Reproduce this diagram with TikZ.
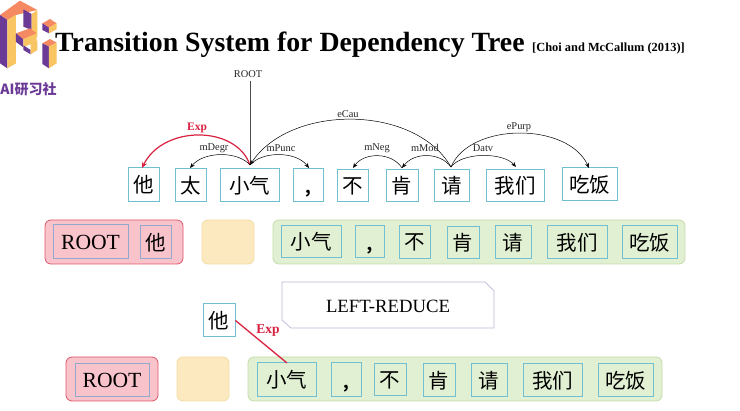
\documentclass[tikz,border=0pt]{standalone}
\usepackage{fontspec}
\setmainfont{Liberation Serif}
\newfontfamily\cjk{Noto Sans CJK SC}
\usetikzlibrary{arrows.meta}
\definecolor{boxblue}{HTML}{70C0D2}
\definecolor{rootblue}{HTML}{92A8CC}
\definecolor{redfill}{HTML}{F9C3CB}
\definecolor{redline}{HTML}{E0556A}
\definecolor{yelfill}{HTML}{FCE9C0}
\definecolor{yelline}{HTML}{F3DDA0}
\definecolor{grnfill}{HTML}{E1F0D2}
\definecolor{grnline}{HTML}{C4DDAA}
\definecolor{arcred}{HTML}{D9203F}
\definecolor{actline}{HTML}{B9B9D6}
\definecolor{lgpurple}{HTML}{6B3A96}
\definecolor{lgorange}{HTML}{F58A62}
\definecolor{lgyellow}{HTML}{F9C462}
\tikzset{
  x=1pt,y=-1pt,
  wbox/.style={draw=boxblue,line width=1pt,fill=#1,inner sep=0pt,font=\cjk\fontsize{20.5}{20.5}\selectfont,text=black},
  wbox/.default=white,
  rootbox/.style={draw=rootblue,line width=1pt,fill=redfill,inner sep=0pt,text=black},
  stackbg/.style={rounded corners=6pt,line width=.8pt},
  arcline/.style={-{Stealth[length=5pt,width=4pt]},line width=.5pt,black},
  lab/.style={font=\fontsize{10.4}{10.4}\selectfont,text=black!85},
}
\newcommand{\wb}[7][white]{\node[wbox=#1,minimum width=#4-#3,minimum height=#6-#5] (#2) at ({(#3+#4)/2},{(#5+#6)/2}) {#7};}
\newcommand{\commaglyph}{\vphantom{小}\raisebox{-3pt}{\fontsize{16}{16}\selectfont\bfseries,}}
\begin{document}
\begin{tikzpicture}
\useasboundingbox (0,0) rectangle (740,411);
\fill[white] (0,0) rectangle (740,411);
% logo
\begin{scope}[x=.3333pt,y=-.3333pt]
\fill[lgorange] (0,45) -- (60,2) -- (112,30) -- (48,45) -- (22,60) -- cycle;
\fill[lgpurple] (0,45) -- (22,60) -- (22,205) -- (0,190) -- cycle;
\fill[lgyellow] (22,60) -- (48,45) -- (48,190) -- (22,205) -- cycle;
\fill[lgpurple] (70,28) -- (95,42) -- (95,90) -- (70,80) -- cycle;
\fill[lgyellow] (95,42) -- (112,30) -- (112,110) -- (95,120) -- cycle;
\fill[lgorange] (48,100) -- (90,85) -- (110,100) -- (70,118) -- cycle;
\fill[lgpurple] (48,100) -- (70,118) -- (70,142) -- (48,126) -- cycle;
\fill[lgyellow] (70,118) -- (110,100) -- (110,124) -- (70,142) -- cycle;
\fill[lgpurple] (70,136) -- (92,150) -- (92,163) -- (70,150) -- cycle;
\fill[lgyellow] (92,130) -- (112,122) -- (112,150) -- (92,163) -- cycle;
\fill[lgorange] (127,70) -- (150,57) -- (170,70) -- (147,83) -- cycle;
\fill[lgpurple] (127,70) -- (147,83) -- (147,100) -- (127,90) -- cycle;
\fill[lgyellow] (147,83) -- (170,70) -- (170,88) -- (147,100) -- cycle;
\fill[lgorange] (127,130) -- (150,117) -- (170,128) -- (147,140) -- cycle;
\fill[lgpurple] (127,130) -- (147,140) -- (147,205) -- (127,192) -- cycle;
\fill[lgyellow] (147,140) -- (170,128) -- (170,190) -- (147,205) -- cycle;
\end{scope}
\node[font=\cjk\bfseries\fontsize{14}{14}\selectfont,text=lgpurple,inner sep=0pt] (logotext) at (28.5,89) {AI研习社};
% title
\node[font=\bfseries\fontsize{27.8}{27.8}\selectfont,inner sep=0pt,anchor=base west] (title) at (55,52) {Transition System for Dependency Tree};
\node[font=\bfseries\fontsize{12.4}{12.4}\selectfont,inner sep=0pt,anchor=base west] (cite) at (532,52) {[Choi and McCallum (2013)]};
% sentence
\wb{a1}{128}{159}{168}{202}{他}
\wb{a2}{175}{206}{169}{202}{太}
\wb{a3}{220}{279}{169}{202}{小气}
\wb{a4}{293}{323}{169}{202}{\commaglyph}
\wb{a5}{337}{368}{170}{202}{不}
\wb{a6}{386}{418}{170}{202}{肯}
\wb{a7}{434}{469}{170}{202}{请}
\wb{a8}{486}{544}{170}{202}{我们}
\wb{a9}{562}{617}{168}{201}{吃饭}
\coordinate (h3) at (250,165);
\coordinate (h7) at (451,167);
\coordinate (h6) at (402,168);
\node[lab] (root) at (248,74) {ROOT};
\draw[line width=.6pt,black!70] (root.south -| h3) -- (h3);
\draw[-{Stealth[length=6pt,width=5pt]},line width=1.2pt,arcred] (h3) .. controls (236,125) and (163,125) .. (142,168);
\draw[arcline] (h3) .. controls (238,151) and (204,151) .. (190,168);
\draw[arcline] (h3) .. controls (262,151) and (296,151) .. (309,168);
\draw[arcline] (h7) .. controls (415,104) and (290,104) .. (h3);
\draw[arcline] (h7) .. controls (440,152) and (414,152) .. (h6);
\draw[arcline] (h6) .. controls (392,152) and (364,152) .. (353,168);
\draw[arcline] (h7) .. controls (462,152) and (503,152) .. (516,167);
\draw[arcline] (h7) .. controls (470,122) and (568,122) .. (589,168);
\node[font=\bfseries\fontsize{11.5}{11.5}\selectfont,text=arcred] (lexp) at (197,128) {Exp};
\node[lab] (l1) at (214,148) {mDegr};
\node[lab] (l2) at (281,148) {mPunc};
\node[lab] (l3) at (348,114) {eCau};
\node[lab] (l4) at (377,148) {mNeg};
\node[lab] (l5) at (425,148) {mMod};
\node[lab] (l6) at (483,148) {Datv};
\node[lab] (l7) at (519,127) {ePurp};
% row 2
\draw[stackbg,fill=redfill,draw=redline] (45,220) rectangle (183,264);
\draw[stackbg,fill=yelfill,draw=yelline] (202,220) rectangle (254,264);
\draw[stackbg,fill=grnfill,draw=grnline] (273,220) rectangle (685,264);
\node[rootbox,minimum width=75,minimum height=34,font=\fontsize{21.6}{21.6}\selectfont] (r1) at (90.5,242) {ROOT};
\node[rootbox,minimum width=31,minimum height=33,font=\cjk\fontsize{20.5}{20.5}\selectfont] (r2) at (155.5,242.5) {他};
\wb[grnfill]{b3}{281}{341}{226}{258}{小气}
\wb[grnfill]{b4}{355}{384}{226}{258}{\commaglyph}
\wb[grnfill]{b5}{399}{430}{226}{259}{不}
\wb[grnfill]{b6}{447}{479}{227}{259}{肯}
\wb[grnfill]{b7}{495}{531}{226}{259}{请}
\wb[grnfill]{b8}{547}{607}{226}{259}{我们}
\wb[grnfill]{b9}{622}{677}{226}{259}{吃饭}
% action
\draw[draw=actline,fill=white,line width=.7pt] (282,282) -- (485,282) -- (494,291) -- (494,328) -- (291,328) -- (282,320) -- cycle;
\node[font=\fontsize{18.7}{18.7}\selectfont,inner sep=0pt] (act) at (388,306) {LEFT-REDUCE};
% row 3
\wb{c0}{203}{235}{304}{337}{他}
\draw[stackbg,fill=redfill,draw=redline] (66,357) rectangle (158,401);
\draw[stackbg,fill=yelfill,draw=yelline] (177,357) rectangle (229,401);
\draw[stackbg,fill=grnfill,draw=grnline] (248,357) rectangle (662,401);
\node[rootbox,minimum width=74,minimum height=33,font=\fontsize{21.6}{21.6}\selectfont] (c1) at (112,380.5) {ROOT};
\wb[grnfill]{c3}{257}{316}{363}{397}{小气}
\wb[grnfill]{c4}{331}{361}{363}{397}{\commaglyph}
\wb[grnfill]{c5}{374}{406}{364}{396}{不}
\wb[grnfill]{c6}{423}{455}{364}{397}{肯}
\wb[grnfill]{c7}{471}{507}{364}{397}{请}
\wb[grnfill]{c8}{523}{582}{364}{397}{我们}
\wb[grnfill]{c9}{598}{653}{364}{397}{吃饭}
\coordinate (c3t) at (287,363);
\draw[line width=1.3pt,arcred] (c0.east) -- (c3t);
\node[font=\bfseries\fontsize{13.5}{13.5}\selectfont,text=arcred] (lexp2) at (268,331) {Exp};
\end{tikzpicture}
\end{document}
